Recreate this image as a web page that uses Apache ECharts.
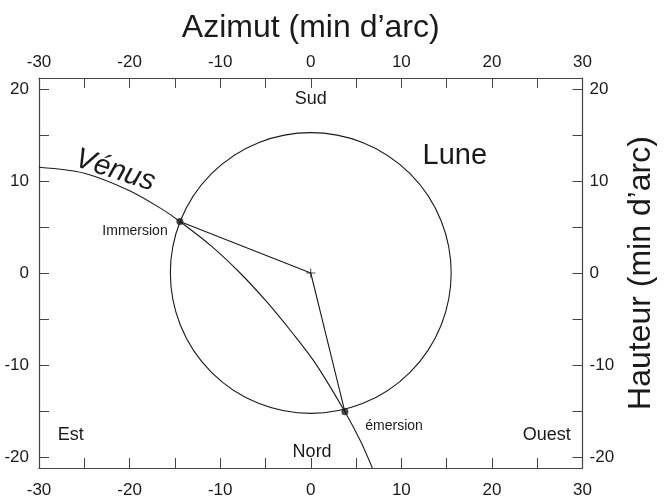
<!DOCTYPE html>
<html>
<head>
<meta charset="utf-8">
<script src="https://cdn.jsdelivr.net/npm/echarts@6/dist/echarts.min.js"></script>
<style>
  html, body { margin: 0; padding: 0; background: #fff; }
  #chart { width: 665px; height: 500px; }
</style>
</head>
<body>
<div id="chart"></div>
<script>
// axes (minutes of arc)
const xLabels = [-30, -20, -10, 0, 10, 20, 30]
const xTicks = [-25, -20, -15, -10, -5, 0, 5, 10, 15, 20, 25]
const yLabels = [-20, -10, 0, 10, 20]
const yTicks = [-20, -15, -10, -5, 0, 5, 10, 15, 20]

// Lune
const moonCenter = [0, 0]
const moonRadius = 15.5

// trajectoire de Vénus
const venusX = [-30, -25, -20, -16.6, -14.45, -11.0, -7.8, -4.8, -2.0, 0.5, 3.77, 5.5, 6.8]
const venusY = [11.5, 10.85, 8.95, 7.05, 5.6, 2.95, 0.0, -3.2, -6.55, -9.8, -15.09, -18.3, -21.2]

// contacts
const immersion = [-14.45, 5.6]
const emersion = [3.77, -15.09]

// textes
const dirNames = ['Sud', 'Nord', 'Est', 'Ouest']
const dirX = [0, 0.15, -26.5, 26.05]
const dirY = [18.9, -19.5, -17.6, -17.65]
const contactNames = ['Immersion', 'émersion']
const contactLabelX = [-19.4, 9.2]
const contactLabelY = [4.5, -16.6]
const moonLabel = ['Lune', 15.9, 12.7]
const venusLabel = ['Vénus', -21.6, 11.15]

const ink = '#1a1a1a'
const frame = '#444'
const font = 'Liberation Sans, Arial, Helvetica, sans-serif'

function makeAxis(position, labels, ticks, min, max, margin, extra) {
  return Object.assign({
    type: 'value', position, min, max,
    axisLine: { show: true, onZero: false, lineStyle: { color: frame, width: 1.2 } },
    axisTick: { show: true, inside: true, length: 10, customValues: ticks, lineStyle: { color: frame, width: 1 } },
    axisLabel: { show: true, customValues: labels, margin, color: ink, fontSize: 17, fontFamily: font },
    splitLine: { show: false }
  }, extra || {})
}

// text drawn at data coordinates
const textSeries = (items, fontSize, fontStyle, rotateDeg) => ({
  type: 'custom', silent: true, z: 10,
  data: items.map(d => [d[1], d[2], d[0]]),
  renderItem: (params, api) => {
    const p = api.coord([api.value(0), api.value(1)])
    return {
      type: 'text', x: p[0], y: p[1], rotation: (rotateDeg || 0) * Math.PI / 180,
      style: {
        text: items[params.dataIndex][0], fill: ink, align: 'center', verticalAlign: 'middle',
        font: (fontStyle || 'normal') + ' ' + fontSize + 'px ' + font
      }
    }
  }
})

const chart = echarts.init(document.getElementById('chart'), null, { renderer: 'canvas' })
chart.setOption({
  animation: false,
  backgroundColor: '#fff',
  grid: { left: 39, top: 78, right: 74, bottom: 32 },
  xAxis: [
    makeAxis('bottom', xLabels, xTicks, -30, 30, 14),
    makeAxis('top', xLabels, xTicks, -30, 30, 7, {
      name: 'Azimut (min d’arc)', nameLocation: 'middle', nameGap: 34,
      nameTextStyle: { color: ink, fontSize: 32, fontFamily: font }
    })
  ],
  yAxis: [
    makeAxis('left', yLabels, yTicks, -21.2, 21.2, 10),
    makeAxis('right', yLabels, yTicks, -21.2, 21.2, 7, {
      name: 'Hauteur (min d’arc)', nameLocation: 'middle', nameGap: 34, nameRotate: 90,
      nameTextStyle: { color: ink, fontSize: 32, fontFamily: font }
    })
  ],
  series: [
    {
      type: 'custom',
      silent: true,
      data: [[moonCenter[0], moonCenter[1], moonRadius]],
      renderItem: (params, api) => {
        const c = api.coord([api.value(0), api.value(1)])
        const r = api.size([api.value(2), 0])[0]
        return { type: 'circle', shape: { cx: c[0], cy: c[1], r }, style: { fill: 'none', stroke: ink, lineWidth: 1.1 } }
      }
    },
    {
      type: 'line', smooth: 0.3, showSymbol: false, silent: true,
      lineStyle: { color: ink, width: 1.1 },
      data: venusX.map((x, i) => [x, venusY[i]])
    },
    {
      type: 'line', showSymbol: false, silent: true,
      lineStyle: { color: ink, width: 1.1 },
      data: [immersion, moonCenter, emersion]
    },
    {
      type: 'scatter', symbol: 'circle', symbolSize: 7, silent: true,
      itemStyle: { color: ink },
      data: [immersion, emersion], z: 5
    },
    {
      type: 'scatter', symbol: 'path://M5,0L5,10M0,5L10,5', symbolSize: 9, silent: true,
      itemStyle: { color: 'none', borderColor: ink, borderWidth: 1 },
      data: [moonCenter]
    },
    textSeries(dirNames.map((n, i) => [n, dirX[i], dirY[i]]), 18),
    textSeries(contactNames.map((n, i) => [n, contactLabelX[i], contactLabelY[i]]), 14),
    textSeries([moonLabel], 29),
    textSeries([venusLabel], 29, 'italic', -18)
  ]
})
</script>
</body>
</html>
